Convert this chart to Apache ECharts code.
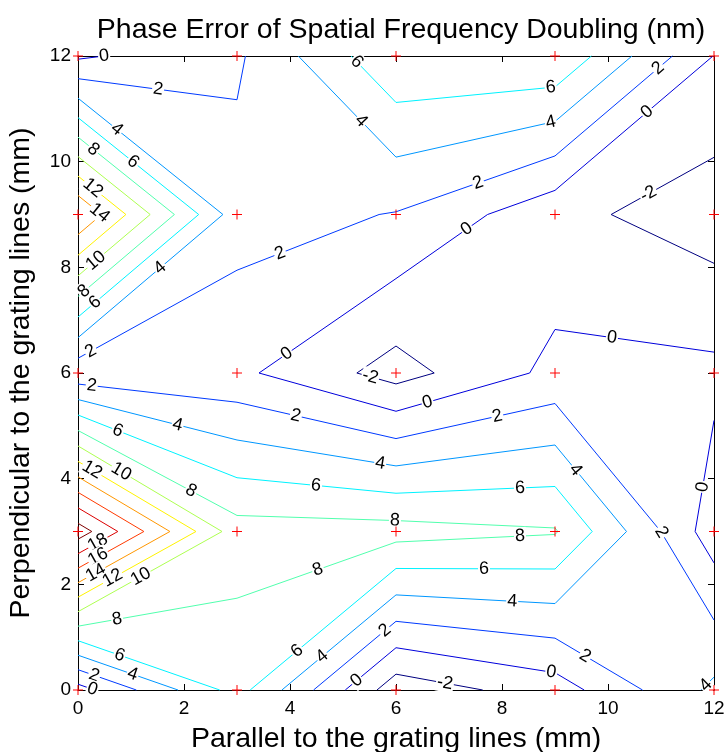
<!DOCTYPE html>
<html><head><meta charset="utf-8">
<script src="https://cdn.jsdelivr.net/npm/echarts@6/dist/echarts.min.js"></script>
<style>html,body{margin:0;padding:0;background:#fff}#c{width:728px;height:752px}</style>
</head><body><div id="c"></div>
<script>
// Grid of measured values (nm); x and y positions in mm
const xGrid = [0, 3, 6, 9, 12];
const yGrid = [0, 3, 6, 9, 12];
const zAtY0  = [-0.8, 6.83, -3.2, -1.0, 4.45];
const zAtY3  = [21.06, 8.85, 8.8, 8.17, -1.1];
const zAtY6  = [0.57, 0.45, -2.8, 0.53, 0.47];
const zAtY9  = [15.95, 2.84, 1.9, -1.4, -3.1];
const zAtY12 = [-0.33, 1.68, 7.7, 7.8, -0.05];
const levels = [-2, 0, 2, 4, 6, 8, 10, 12, 14, 16, 18, 20];
const tickValues = [0, 2, 4, 6, 8, 10, 12];
// inline contour labels: level and approximate position (mm)
const labelLevel = [0,2,4,6,8,12,14,10,8,6,4,2,2,6,4,2,0,6,4,2,0,-2,0,-2,0,0,2,2,2,6,4,4,4,12,10,8,6,6,8,8,0,2,18,16,14,12,10,8,6,8,4,6,4,2,0,6,4,2,0,-2,2,0,4];
const labelX = [0.51,1.51,0.72,1.04,0.28,0.28,0.42,0.36,0.13,0.36,1.55,0.26,3.81,5.26,5.32,7.55,7.32,8.92,8.92,10.94,10.74,10.75,3.94,5.51,6.6,10.08,0.26,4.11,7.91,0.74,1.87,5.7,9.38,0.26,0.79,2.13,4.49,8.34,5.98,8.34,11.81,10.98,0.38,0.38,0.34,0.64,1.19,4.53,7.66,0.74,8.19,0.79,1.02,0.32,0.28,4.15,4.6,5.81,5.25,6.92,9.55,8.92,11.85];
const labelY = [11.92,11.36,10.6,10.0,10.22,9.5,9.05,8.1,7.53,7.29,7.99,6.38,8.27,11.89,10.75,9.6,8.75,11.39,10.75,11.77,10.94,9.41,6.36,5.91,5.43,6.7,5.77,5.19,5.19,4.88,4.98,4.28,4.16,4.16,4.09,3.77,3.86,3.80,3.2,2.9,3.84,2.97,2.78,2.52,2.21,2.14,2.14,2.27,2.27,1.33,1.63,0.68,0.27,0.32,0.04,0.72,0.64,1.1,0.19,0.11,0.61,0.28,0.09];

const Z = [zAtY0, zAtY3, zAtY6, zAtY9, zAtY12];

function jet(t){
  const cl = v => Math.max(0, Math.min(1, v));
  const r = cl(1.5 - Math.abs(4*t - 3)), g = cl(1.5 - Math.abs(4*t - 2)), b = cl(1.5 - Math.abs(4*t - 1));
  return 'rgb(' + Math.round(r*255) + ',' + Math.round(g*255) + ',' + Math.round(b*255) + ')';
}
const lmin = levels[0], lmax = levels[levels.length-1];
function levelColor(c){ return jet((c - lmin)/(lmax - lmin)); }

// marching squares on the grid
const segments = [];
for (const c of levels){
  for (let j = 0; j < yGrid.length - 1; j++){
    for (let i = 0; i < xGrid.length - 1; i++){
      const x0 = xGrid[i], x1 = xGrid[i+1], y0 = yGrid[j], y1 = yGrid[j+1];
      const zbl = Z[j][i], zbr = Z[j][i+1], ztl = Z[j+1][i], ztr = Z[j+1][i+1];
      const cross = (za, zb) => (za - c) * (zb - c) < 0;
      const f = (za, zb) => (c - za) / (zb - za);
      const E = {};
      if (cross(zbl, zbr)) E.b = [x0 + (x1-x0)*f(zbl,zbr), y0];
      if (cross(zbr, ztr)) E.r = [x1, y0 + (y1-y0)*f(zbr,ztr)];
      if (cross(ztl, ztr)) E.t = [x0 + (x1-x0)*f(ztl,ztr), y1];
      if (cross(zbl, ztl)) E.l = [x0, y0 + (y1-y0)*f(zbl,ztl)];
      const keys = Object.keys(E);
      const pairs = [];
      if (keys.length === 2) pairs.push([E[keys[0]], E[keys[1]]]);
      else if (keys.length === 4){
        const centerAbove = (zbl + zbr + ztl + ztr)/4 > c;
        if ((zbl > c) !== centerAbove){ pairs.push([E.l, E.b]); pairs.push([E.t, E.r]); }
        else { pairs.push([E.b, E.r]); pairs.push([E.l, E.t]); }
      }
      for (const p of pairs) segments.push({c: c, x1: p[0][0], y1: p[0][1], x2: p[1][0], y2: p[1][1], color: levelColor(c)});
    }
  }
}

// snap labels on nearest segment of same level
const labels = [];
for (let k = 0; k < labelLevel.length; k++){
  const c = labelLevel[k], px = labelX[k], py = labelY[k];
  let best = null, bd = Infinity;
  for (const s of segments){
    if (s.c !== c) continue;
    const dx = s.x2 - s.x1, dy = s.y2 - s.y1;
    let t = ((px - s.x1)*dx + (py - s.y1)*dy) / (dx*dx + dy*dy);
    t = Math.max(0, Math.min(1, t));
    const qx = s.x1 + t*dx, qy = s.y1 + t*dy;
    const d = (qx-px)*(qx-px) + (qy-py)*(qy-py);
    if (d < bd){ bd = d; best = {x: qx, y: qy, s: s}; }
  }
  if (best) labels.push({text: String(c), x: best.x, y: best.y, s: best.s});
}

const points = [];
for (const y of yGrid) for (const x of xGrid) points.push([x, y]);

const FONT = '"Liberation Sans", Arial, Helvetica, sans-serif';
const chart = echarts.init(document.getElementById('c'), null, {renderer: 'canvas'});
const axisCommon = {
  type: 'value', min: 0, max: 12, interval: 2,
  axisLine: {show: true, onZero: false, lineStyle: {color: '#000', width: 1}},
  axisTick: {show: true, inside: true, length: 6, lineStyle: {color: '#000'}},
  splitLine: {show: false}
};
chart.setOption({
  animation: false,
  backgroundColor: '#fff',
  title: {
    text: 'Phase Error of Spatial Frequency Doubling (nm)',
    left: 396, top: 11, textAlign: 'center',
    textStyle: {fontFamily: FONT, fontSize: 28.5, fontWeight: 'normal', color: '#000'}
  },
  grid: {left: 78, top: 56, right: 14, bottom: 62, containLabel: false, outerBoundsMode: 'none'},
  xAxis: [
    Object.assign({}, axisCommon, {position: 'bottom',
      name: 'Parallel to the grating lines (mm)', nameLocation: 'middle', nameGap: 35,
      nameTextStyle: {fontFamily: FONT, fontSize: 28.5, color: '#000'},
      axisLabel: {fontFamily: FONT, fontSize: 19, color: '#000', margin: 9,
        formatter: v => tickValues.includes(v) ? String(v) : ''}}),
    Object.assign({}, axisCommon, {position: 'top', axisLabel: {show: false}})
  ],
  yAxis: [
    Object.assign({}, axisCommon, {position: 'left',
      name: 'Perpendicular to the grating lines (mm)', nameLocation: 'middle', nameGap: 42,
      nameTextStyle: {fontFamily: FONT, fontSize: 28.5, color: '#000'},
      axisLabel: {fontFamily: FONT, fontSize: 19, color: '#000', margin: 7,
        formatter: v => tickValues.includes(v) ? String(v) : ''}}),
    Object.assign({}, axisCommon, {position: 'right', axisLabel: {show: false}})
  ],
  series: [
    {
      type: 'custom', z: 2, clip: false,
      data: segments.map(s => [s.x1, s.y1]),
      encode: {x: 0, y: 1},
      renderItem: function(params, api){
        const s = segments[params.dataIndex];
        const a = api.coord([s.x1, s.y1]), b = api.coord([s.x2, s.y2]);
        return {type: 'line', shape: {x1: a[0], y1: a[1], x2: b[0], y2: b[1]},
          style: {stroke: s.color, lineWidth: 1}};
      }
    },
    {
      type: 'custom', z: 3, clip: false,
      data: labels.map(l => [l.x, l.y]),
      encode: {x: 0, y: 1},
      renderItem: function(params, api){
        const l = labels[params.dataIndex];
        const p = api.coord([l.x, l.y]);
        const a = api.coord([l.s.x1, l.s.y1]), b = api.coord([l.s.x2, l.s.y2]);
        let ang = Math.atan2(-(b[1]-a[1]), b[0]-a[0]);
        if (ang > Math.PI/2) ang -= Math.PI;
        if (ang < -Math.PI/2) ang += Math.PI;
        return {type: 'text', x: p[0], y: p[1], rotation: ang,
          style: {text: l.text, x: 0, y: 0, fill: '#000', font: '18px ' + FONT,
            align: 'center', verticalAlign: 'middle', backgroundColor: '#fff', padding: [0, 1]}};
      }
    },
    {
      type: 'custom', z: 4, clip: false,
      data: points,
      encode: {x: 0, y: 1},
      renderItem: function(params, api){
        const p = api.coord([api.value(0), api.value(1)]);
        const h = 5;
        return {type: 'group', children: [
          {type: 'line', shape: {x1: p[0]-h, y1: p[1], x2: p[0]+h, y2: p[1]}, style: {stroke: '#ff0000', lineWidth: 1}},
          {type: 'line', shape: {x1: p[0], y1: p[1]-h, x2: p[0], y2: p[1]+h}, style: {stroke: '#ff0000', lineWidth: 1}}
        ]};
      }
    }
  ]
});
</script></body></html>
